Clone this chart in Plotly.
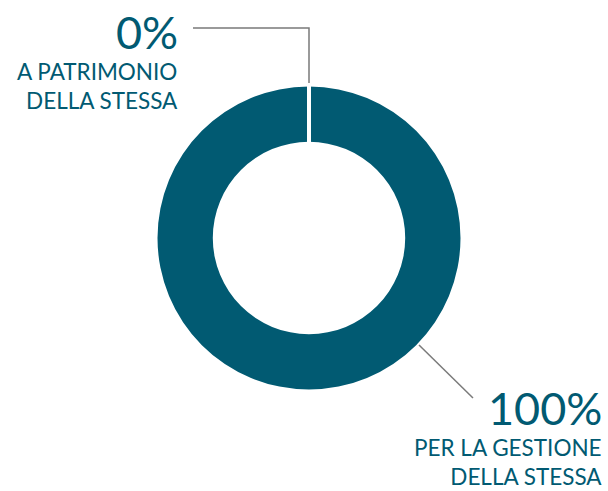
import plotly.graph_objects as go

labels = ["A PATRIMONIO DELLA STESSA", "PER LA GESTIONE DELLA STESSA"]
values = [0, 100]
pct_text = ["0%", "100%"]
sub_text = ["A PATRIMONIO<br>DELLA STESSA", "PER LA GESTIONE<br>DELLA STESSA"]

W, H = 608, 491
TEAL = "#015a72"
GREY = "#7a7a7a"
FONT = "Lato"

def px(x):
    return x / W

def py(y):
    return 1 - y / H

fig = go.Figure()
fig.add_trace(go.Pie(
    labels=labels, values=values, hole=0.635, sort=False, direction="clockwise",
    rotation=0, marker=dict(colors=["#ffffff", TEAL], line=dict(color="#ffffff", width=0)),
    textinfo="none", hoverinfo="label+percent", showlegend=False,
    domain=dict(x=[px(157.5), px(460.5)], y=[py(389.5), py(86.5)]),
))

shapes = [
    dict(type="line", xref="paper", yref="paper", x0=px(309), x1=px(309), y0=py(84), y1=py(186),
         line=dict(color="#ffffff", width=4)),
    dict(type="path", xref="paper", yref="paper",
         path=f"M {px(193)} {py(28)} L {px(309)} {py(28)} L {px(309)} {py(83)}",
         line=dict(color=GREY, width=1.5)),
    dict(type="line", xref="paper", yref="paper", x0=px(419), y0=py(345), x1=px(473), y1=py(398),
         line=dict(color=GREY, width=1.5)),
]

annotations = [
    dict(text=pct_text[0], x=px(179), y=py(4), xanchor="right", yanchor="top",
         font=dict(size=45, color=TEAL, family=FONT)),
    dict(text=sub_text[0], x=px(179), y=py(57), xanchor="right", yanchor="top", align="right",
         font=dict(size=22.5, color=TEAL, family=FONT)),
    dict(text=pct_text[1], x=px(603), y=py(380), xanchor="right", yanchor="top",
         font=dict(size=45, color=TEAL, family=FONT)),
    dict(text=sub_text[1], x=px(603), y=py(491), xanchor="right", yanchor="bottom", align="right",
         font=dict(size=22.5, color=TEAL, family=FONT)),
]
for a in annotations:
    a.update(xref="paper", yref="paper", showarrow=False, borderpad=0)

fig.update_layout(
    width=W, height=H, margin=dict(l=0, r=0, t=0, b=0),
    paper_bgcolor="#ffffff", plot_bgcolor="#ffffff",
    shapes=shapes, annotations=annotations,
)
fig.write_html(
    "out.html",
    config={"displayModeBar": False},
    post_script="document.body.style.margin='0';document.body.style.overflow='hidden';",
)
